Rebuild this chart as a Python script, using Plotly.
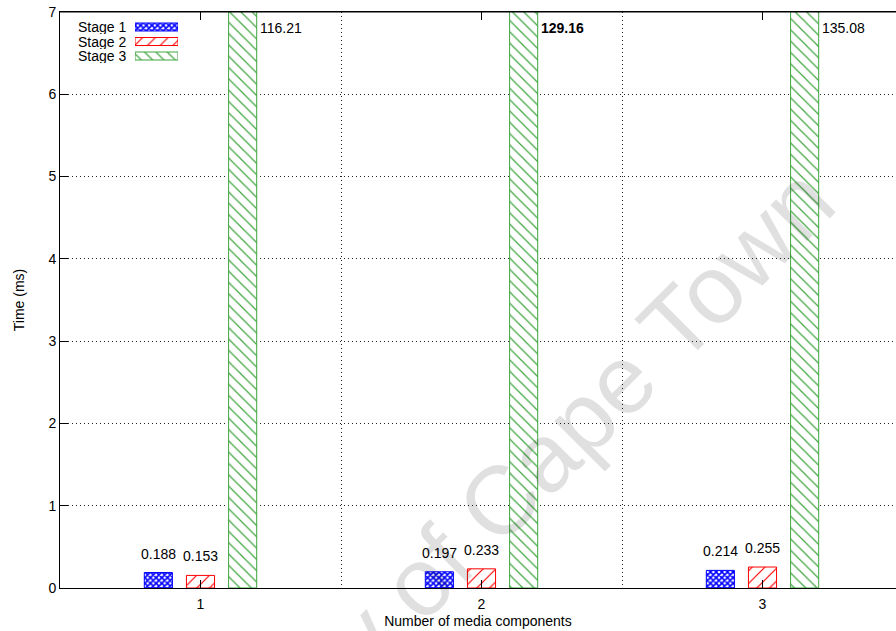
import plotly.graph_objects as go

# Data
components = [1, 2, 3]
stages = ["Stage 1", "Stage 2", "Stage 3"]
stage1 = [0.188, 0.197, 0.214]
stage2 = [0.153, 0.233, 0.255]
stage3 = [116.21, 129.16, 135.08]
y_ticks = [0, 1, 2, 3, 4, 5, 6, 7]

series = [stage1, stage2, stage3]
colors = ["#0000ff", "#ff0000", "#3fa53f"]
patterns = [
    dict(shape="x", size=4, solidity=0.65),
    dict(shape="/", size=9, solidity=0.13),
    dict(shape="\\", size=8, solidity=0.15),
]

FONT = "Liberation Sans, Arial, Helvetica, sans-serif"
W, H = 896, 631
ML, MR, MT, MB = 60, 0, 12, 43
PW, PH = W - ML - MR, H - MT - MB

fig = go.Figure()

for name, vals, col, pat in zip(stages, series, colors, patterns):
    fig.add_trace(go.Bar(
        x=components, y=vals, name=name, showlegend=False,
        marker=dict(color="white", line=dict(color=col, width=1),
                    pattern=dict(fgcolor=col, bgcolor="white", fillmode="replace", **pat)),
    ))

# Key swatches drawn as horizontal bars on a small inset axis
for name, col, pat in zip(stages, colors, patterns):
    fig.add_trace(go.Bar(
        x=[1], y=[name], orientation="h", base=0, width=0.55,
        xaxis="x2", yaxis="y2", showlegend=False, hoverinfo="skip",
        marker=dict(color="white", line=dict(color=col, width=1),
                    pattern=dict(fgcolor=col, bgcolor="white", fillmode="replace", **pat)),
    ))

annotations = []
group_offsets = [-0.15, 0.0, 0.15]
# Small values printed above their bars
for vals, off in zip([stage1, stage2], group_offsets[:2]):
    for c, v in zip(components, vals):
        annotations.append(dict(
            x=c + off, y=v, xref="x", yref="y", text=f"{v:.3f}",
            showarrow=False, yanchor="bottom", xanchor="center", yshift=9,
            font=dict(family=FONT, size=14, color="black")))
# Stage 3 values printed beside the clipped bars
for c, v in zip(components, stage3):
    txt = f"{v:.2f}"
    if c == 2:
        txt = f"<b>{txt}</b>"
    annotations.append(dict(
        x=c + group_offsets[2] + 0.05, y=7, xref="x", yref="y", text=txt,
        showarrow=False, xanchor="left", yanchor="top", xshift=1, yshift=-6,
        font=dict(family=FONT, size=14, color="black")))
# Key labels
for name in stages:
    annotations.append(dict(
        x=(128 - ML) / PW, y=name, xref="paper", yref="y2", text=name,
        showarrow=False, xanchor="right", yanchor="middle", height=14,
        font=dict(family=FONT, size=14, color="black")))
# Watermark
annotations.append(dict(
    x=(447 - ML) / PW, y=(MT + PH - 553) / PH, xref="paper", yref="paper",
    text="University of Cape Town", showarrow=False, textangle=-45,
    xanchor="center", yanchor="middle",
    font=dict(family=FONT, size=97, color="rgba(0,0,0,0.12)")))

x_max = 0.5 + PW / 281.0

fig.update_layout(
    width=W, height=H,
    margin=dict(l=ML, r=MR, t=MT, b=MB),
    paper_bgcolor="white", plot_bgcolor="white",
    barmode="group", bargap=0.55, bargroupgap=1 / 3,
    font=dict(family=FONT, size=14, color="black"),
    annotations=annotations,
    xaxis=dict(
        range=[0.5, x_max], tickmode="array", tickvals=components,
        ticktext=[str(c) for c in components],
        ticks="inside", ticklen=8, tickcolor="black", tickwidth=1,
        showline=True, linecolor="black", linewidth=1, mirror="ticks",
        showgrid=False, zeroline=False, ticklabelstandoff=3,
        minor=dict(tickmode="array", tickvals=[1.5, 2.5, 3.5], showgrid=True,
                   gridcolor="#222", gridwidth=1, griddash="1px,3px", ticks=""),
        title=dict(text="Number of media components", standoff=5,
                   font=dict(family=FONT, size=14)),
        tickfont=dict(family=FONT, size=14),
    ),
    yaxis=dict(
        range=[0, 7], tickmode="array", tickvals=y_ticks,
        ticks="inside", ticklen=8, tickcolor="black", tickwidth=1,
        showline=True, linecolor="black", linewidth=1,
        showgrid=True, gridcolor="#222", gridwidth=1, griddash="1px,3px",
        zeroline=False,
        title=dict(text="Time (ms)", standoff=20, font=dict(family=FONT, size=14)),
        tickfont=dict(family=FONT, size=14),
    ),
    xaxis2=dict(domain=[(135 - ML) / PW, (178 - ML) / PW], range=[0, 1],
                anchor="y2", visible=False, fixedrange=True),
    yaxis2=dict(domain=[(MT + PH - 63.25) / PH, (MT + PH - 19.75) / PH],
                range=[2.5, -0.5], anchor="x2", visible=False,
                type="category", categoryorder="array", categoryarray=stages,
                fixedrange=True),
)

# Top border line across the plot area
fig.add_shape(type="line", xref="paper", yref="paper", x0=0, x1=1, y0=1, y1=1,
              line=dict(color="black", width=1))

fig.write_html("out.html")
